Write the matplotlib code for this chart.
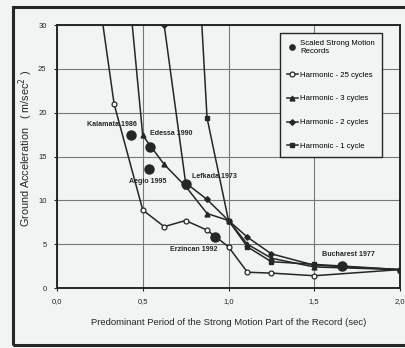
import matplotlib.pyplot as plt
from matplotlib.patches import Rectangle

plt.rcParams['font.family'] = ['Liberation Sans', 'DejaVu Sans']

# harmonic excitation curves (period in sec, acceleration in m/sec^2)
t25 = [0.25, 0.333, 0.5, 0.625, 0.75, 0.875, 1.0, 1.11, 1.25, 1.5, 2.0]
a25 = [32.5, 21.0, 8.9, 7.0, 7.7, 6.6, 4.7, 1.8, 1.7, 1.4, 2.1]

t3 = [0.4, 0.5, 0.625, 0.75, 0.875, 1.0, 1.11, 1.25, 1.5, 2.0]
a3 = [38.0, 17.4, 14.1, 11.6, 8.5, 7.7, 5.0, 3.4, 2.4, 2.1]

t2 = [0.625, 0.75, 0.875, 1.0, 1.11, 1.25, 1.5, 2.0]
a2 = [30.0, 12.0, 10.1, 7.7, 5.8, 3.9, 2.6, 2.1]

t1 = [0.75, 0.875, 1.0, 1.11, 1.25, 1.5, 2.0]
a1 = [63.0, 19.4, 7.7, 4.7, 3.0, 2.7, 2.1]

# scaled strong motion records
rec_names = ['Kalamata 1986', 'Edessa 1990', 'Aegio 1995', 'Lefkada 1973',
             'Erzincan 1992', 'Bucharest 1977']
rec_t = [0.43, 0.542, 0.538, 0.75, 0.921, 1.66]
rec_a = [17.4, 16.1, 13.6, 11.9, 5.8, 2.5]

bg = '#f0f4f3'
ink = '#262626'

fig = plt.figure(figsize=(4.05, 3.48), dpi=100, facecolor=bg)
ax = fig.add_axes([0.1407, 0.1724, 0.847, 0.7556])
ax.set_facecolor(bg)

ax.plot(rec_t, rec_a, 'o', color=ink, ms=6.5, ls='none',
        label='Scaled Strong Motion\nRecords', zorder=5)
ax.plot(t25, a25, '-o', color=ink, lw=1.1, ms=3.5, mfc='white', mew=0.9,
        label='Harmonic - 25 cycles')
ax.plot(t3, a3, '-^', color=ink, lw=1.1, ms=3.5, label='Harmonic - 3 cycles')
ax.plot(t2, a2, '-D', color=ink, lw=1.1, ms=2.8, label='Harmonic - 2 cycles')
ax.plot(t1, a1, '-s', color=ink, lw=1.1, ms=3.5, label='Harmonic - 1 cycle')

# record labels
lab = dict(fontsize=5.1, fontweight='bold', color=ink)
ax.text(0.32, 18.7, rec_names[0], ha='center', va='center', **lab)
ax.text(0.545, 17.6, rec_names[1], ha='left', va='center', **lab)
ax.text(0.53, 12.1, rec_names[2], ha='center', va='center', **lab)
ax.text(0.785, 12.7, rec_names[3], ha='left', va='center', **lab)
ax.text(0.795, 4.4, rec_names[4], ha='center', va='center', **lab)
ax.text(1.70, 3.8, rec_names[5], ha='center', va='center', **lab)

ax.set_xlim(0, 2.0)
ax.set_ylim(0, 30)
ax.set_xticks([0, 0.5, 1.0, 1.5, 2.0])
ax.set_xticklabels(['0,0', '0,5', '1,0', '1,5', '2,0'])
ax.set_yticks(range(0, 31, 5))
ax.tick_params(labelsize=5.5, length=2.5, width=0.8, colors=ink, pad=5)
ax.grid(True, color='#777777', lw=0.8)
ax.set_axisbelow(True)
for s in ax.spines.values():
    s.set_color(ink)
    s.set_linewidth(1.4)

ax.set_xlabel('Predominant Period of the Strong Motion Part of the Record (sec)',
              fontsize=6.8, color=ink, labelpad=9)
ax.set_ylabel('Ground Acceleration   ( m/sec$^2$ )', fontsize=7.8, color=ink)
ax.yaxis.set_label_coords(-0.064, 0.53)

leg = ax.legend(loc='upper left', bbox_to_anchor=(0.638, 0.985), fontsize=5.6,
                labelspacing=2.1, handlelength=1.4, handletextpad=0.3,
                borderpad=0.9, fancybox=False, framealpha=1, facecolor=bg,
                edgecolor=ink)
leg.get_frame().set_linewidth(1.0)
leg.legend_handles[0].set_markersize(3.8)

# outer frame of the scanned figure
fig.patches.append(Rectangle((13 / 405, 3 / 348), 400 / 405, 338 / 348,
                             transform=fig.transFigure, fill=False,
                             ec=ink, lw=2.2))

fig.savefig('out.png', dpi=100, facecolor=bg)
